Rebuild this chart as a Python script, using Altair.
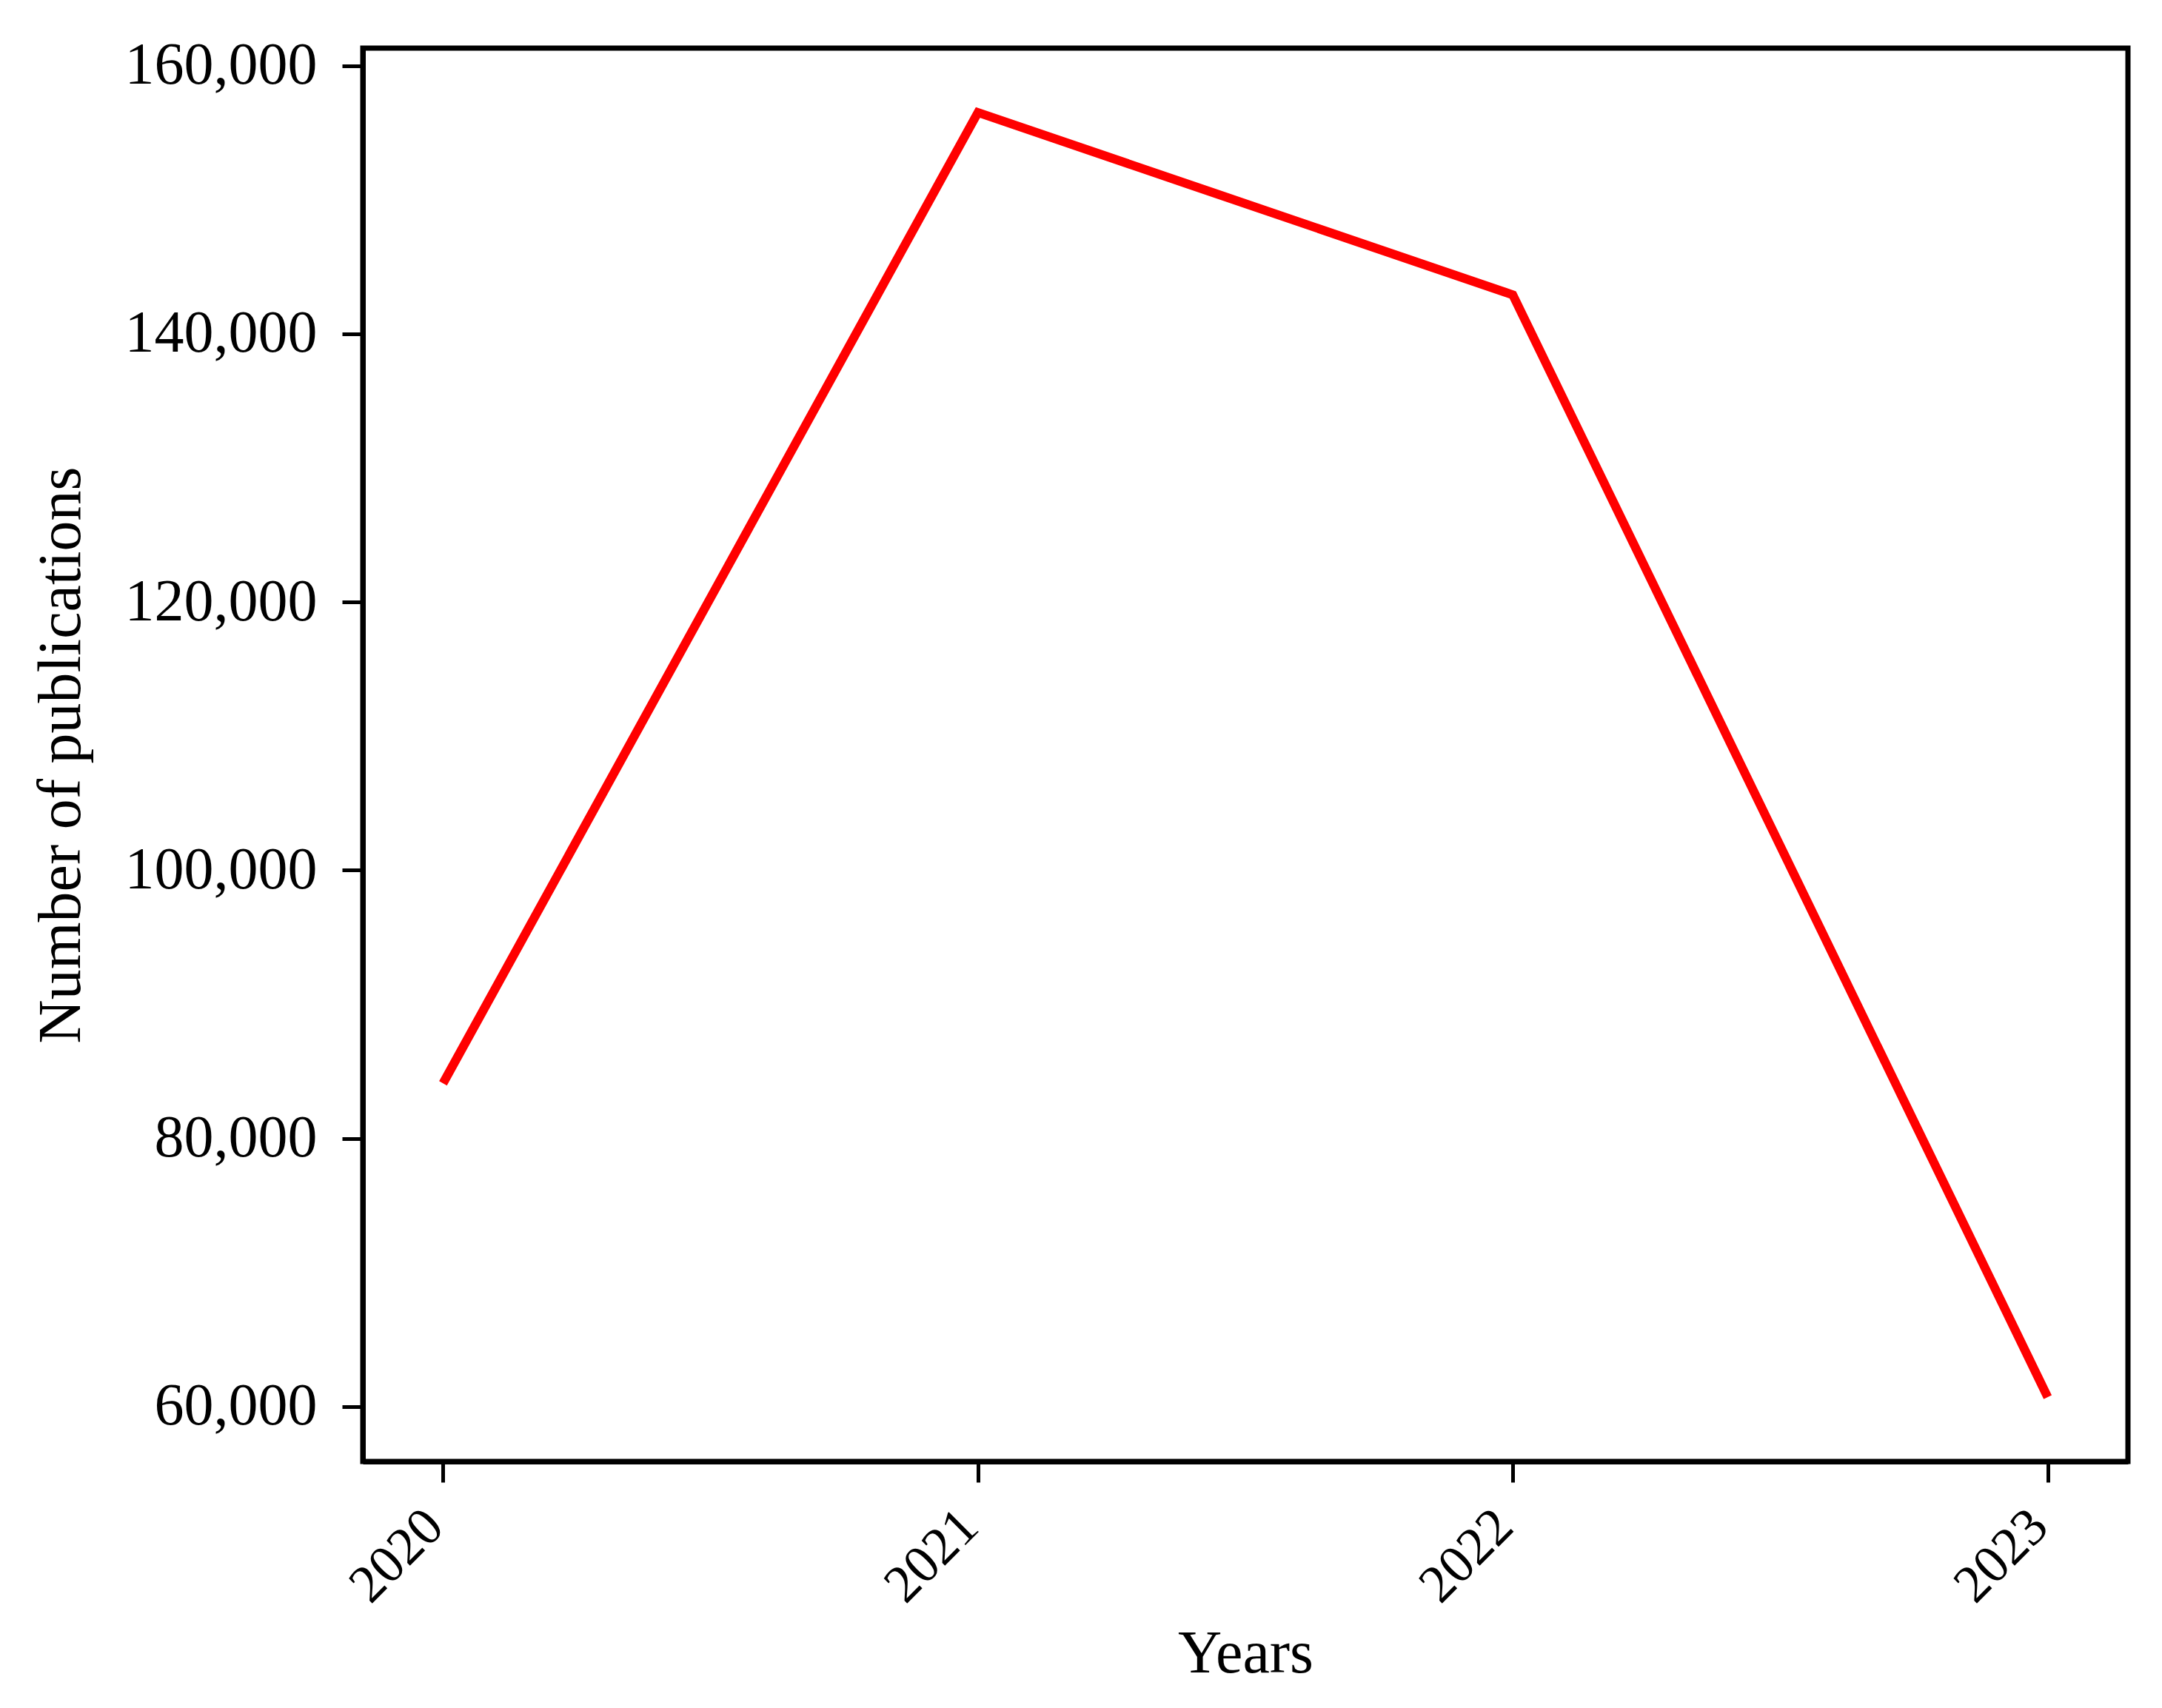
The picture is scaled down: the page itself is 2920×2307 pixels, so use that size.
import altair as alt
import pandas as pd

years = [2020, 2021, 2022, 2023]
publications = [84100, 156500, 142900, 60700]
y_ticks = [60000, 80000, 100000, 120000, 140000, 160000]

df = pd.DataFrame({"Year": years, "Publications": publications})

FONT = "Liberation Serif"
W, H = 2384, 1909

chart = (
    alt.Chart(df)
    .mark_line(color="#FF0000", strokeWidth=12, strokeCap="butt", strokeJoin="miter")
    .encode(
        x=alt.X(
            "Year:Q",
            scale=alt.Scale(domain=[2019.85, 2023.15], nice=False, zero=False),
            axis=alt.Axis(
                values=years,
                format="d",
                title="Years",
                labelAngle=-45,
                labelAlign="right",
                labelBaseline="middle",
                labelPadding=48,
                labelOffset=-12,
                labelFontSize=72,
                labelLimit=0,
                titleFontSize=82,
                titleFontWeight="normal",
                titleBaseline="alphabetic",
                titleY=284,
                titleX=W / 2,
                titleAlign="center",
            ),
        ),
        y=alt.Y(
            "Publications:Q",
            scale=alt.Scale(domain=[55900, 161300], nice=False, zero=False),
            axis=alt.Axis(
                values=y_ticks,
                format=",.0f",
                title="Number of publications",
                labelFontSize=80,
                labelPadding=34,
                labelLimit=0,
                titleFontSize=82,
                titleFontWeight="normal",
                titleAngle=270,
                titleBaseline="alphabetic",
                titleAlign="center",
                titleX=-383,
                titleY=H / 2,
            ),
        ),
    )
    .properties(
        width=W,
        height=H,
        autosize=alt.AutoSizeParams(type="none"),
        padding={"left": 482, "top": 57, "right": 38, "bottom": 325},
        background="white",
    )
    .configure_view(stroke="black", strokeWidth=7)
    .configure_axis(
        labelFont=FONT,
        titleFont=FONT,
        labelColor="black",
        titleColor="black",
        domainColor="black",
        domainWidth=7,
        tickColor="black",
        tickWidth=5,
        tickSize=28,
        grid=False,
    )
)

chart.save("out.html", embed_options={"renderer": "svg", "actions": False})
